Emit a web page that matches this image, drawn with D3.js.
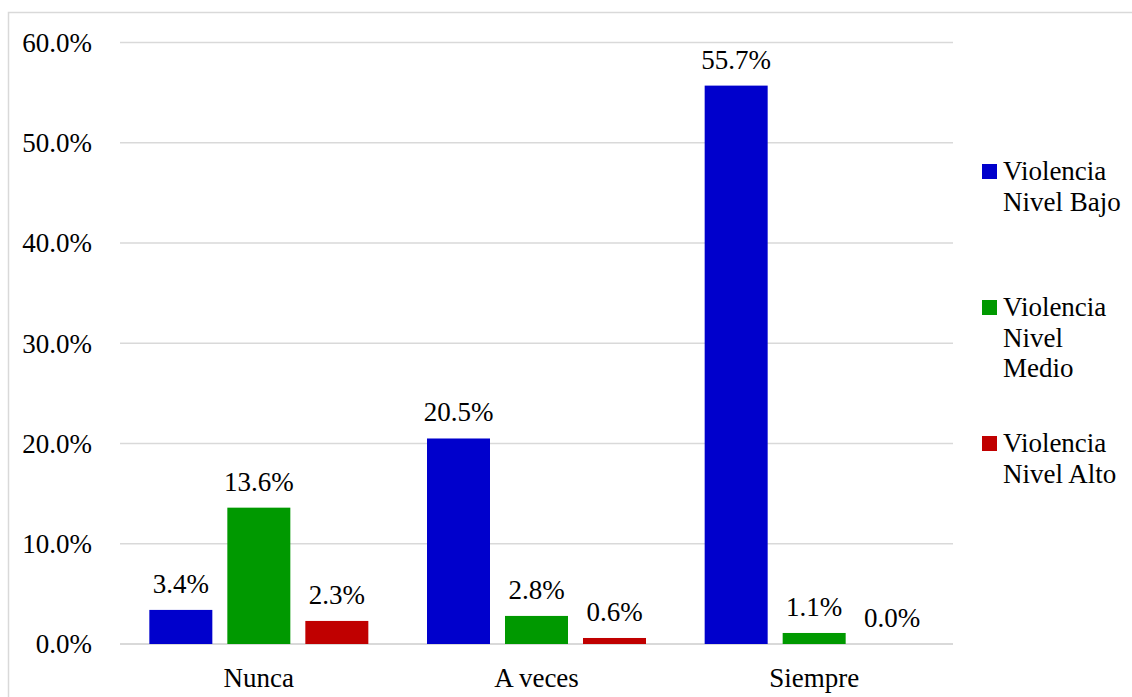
<!DOCTYPE html>
<meta charset="utf-8">
<style>
body { margin: 0; background: #fff; }
.grid line { stroke: #d9d9d9; }
</style>
<svg width="1132" height="697"></svg>
<script src="https://d3js.org/d3.v7.min.js"></script>
<script>

var categories = ["Nunca", "A veces", "Siempre"];
var seriesNames = ["Violencia Nivel Bajo", "Violencia Nivel Medio", "Violencia Nivel Alto"];
var bajo = [3.4, 20.5, 55.7];
var medio = [13.6, 2.8, 1.1];
var alto = [2.3, 0.6, 0.0];
var yTicks = [0, 10, 20, 30, 40, 50, 60];
var colors = ["#0000cc", "#009900", "#c00000"];
var legendLines = [["Violencia", "Nivel Bajo"], ["Violencia", "Nivel", "Medio"], ["Violencia", "Nivel Alto"]];

var series = [bajo, medio, alto];

var svg = d3.select("svg");
var fontSize = 27;

// outer border
svg.append("rect")
    .attr("x", 8.5).attr("y", 12.5)
    .attr("width", 1140).attr("height", 700)
    .attr("fill", "none").attr("stroke", "#d9d9d9").attr("stroke-width", 1.5);

var x0 = d3.scaleBand().domain(categories).range([120, 953]);
var y = d3.scaleLinear().domain([0, 60]).range([644, 42.5]);
var barW = 63, gap = 15;

function styleText(sel) {
  sel.style("font-family", "'Liberation Serif'")
     .style("font-size", fontSize + "px")
     .attr("fill", "#000");
}

// gridlines
svg.append("g").attr("class", "grid")
  .selectAll("line").data(yTicks).enter().append("line")
    .attr("x1", 120).attr("x2", 953)
    .attr("y1", function(d) { return y(d); })
    .attr("y2", function(d) { return y(d); })
    .style("stroke-width", function(d) { return d == 0 ? 2 : 1.3; });

// y labels
svg.append("g").selectAll("text").data(yTicks).enter().append("text")
    .attr("x", 92)
    .attr("y", function(d) { return y(d); })
    .attr("dy", "0.35em")
    .attr("text-anchor", "end")
    .call(styleText)
    .text(function(d) { return d.toFixed(1) + "%"; });

// bars
var groupW = 3 * barW + 2 * gap;
function barX(i, s) { return x0(categories[i]) + x0.bandwidth() / 2 - groupW / 2 + s * (barW + gap); }
series.forEach(function(vals, s) {
  var g = svg.append("g");
  g.selectAll("rect").data(vals).enter().append("rect")
      .attr("x", function(d, i) { return barX(i, s); })
      .attr("y", function(d) { return y(d); })
      .attr("width", barW)
      .attr("height", function(d) { return y(0) - y(d); })
      .attr("fill", colors[s]);
  g.selectAll("text").data(vals).enter().append("text")
      .attr("x", function(d, i) { return barX(i, s) + barW / 2; })
      .attr("y", function(d) { return y(d) - 17; })
      .attr("text-anchor", "middle")
      .call(styleText)
      .text(function(d) { return d.toFixed(1) + "%"; });
});

// category labels
svg.append("g").selectAll("text").data(categories).enter().append("text")
    .attr("x", function(d) { return x0(d) + x0.bandwidth() / 2; })
    .attr("y", 687)
    .attr("text-anchor", "middle")
    .call(styleText)
    .text(function(d) { return d; });

// legend
var legendY = [180, 316, 452];
legendLines.forEach(function(lines, i) {
  var g = svg.append("g");
  g.append("rect")
      .attr("x", 982).attr("y", legendY[i] - 16)
      .attr("width", 15).attr("height", 15)
      .attr("fill", colors[i]);
  g.selectAll("text").data(lines).enter().append("text")
      .attr("x", 1003)
      .attr("y", function(d, j) { return legendY[i] + j * 30.5; })
      .call(styleText)
      .text(function(d) { return d; });
});

</script>
